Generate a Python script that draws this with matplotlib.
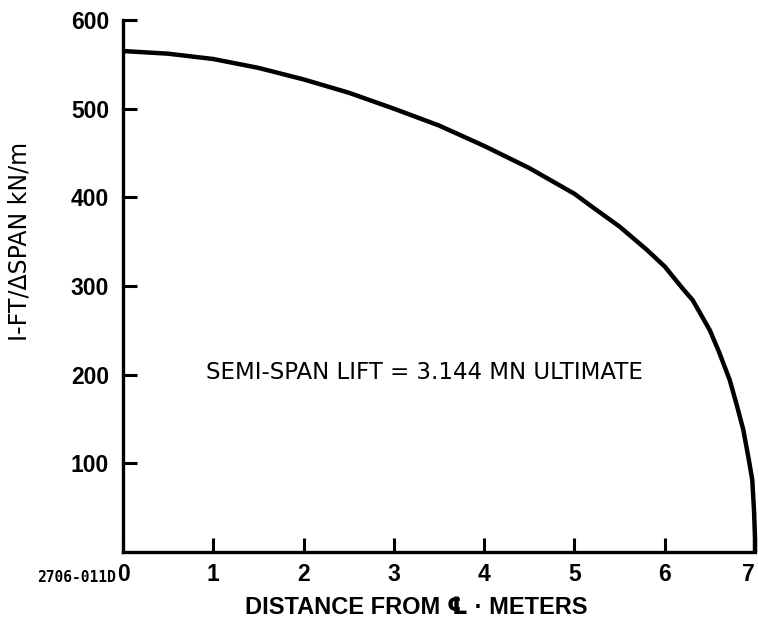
import matplotlib
matplotlib.use("Agg")
import matplotlib.pyplot as plt

# Spanwise lift distribution, semi-span
span_m = [0.0, 0.5, 1.0, 1.5, 2.0, 2.5, 3.0, 3.5, 4.0, 4.5, 5.0, 5.2, 5.5,
          5.8, 6.0, 6.2, 6.31, 6.4, 6.5, 6.6, 6.72, 6.8, 6.87, 6.93, 6.97,
          6.99, 7.0, 7.0]
lift_kn_per_m = [565, 562, 556, 546, 533, 518, 500, 481, 458, 433, 404, 389,
                 367, 341, 322, 297, 284, 268, 250, 226, 194, 165, 138, 105,
                 81, 45, 15, 0]

x_ticks = [0, 1, 2, 3, 4, 5, 6, 7]
y_ticks = [100, 200, 300, 400, 500, 600]

plt.rcParams['font.family'] = ['Liberation Sans', 'DejaVu Sans']

fig = plt.figure(figsize=(7.58, 6.30), dpi=100)
ax = fig.add_axes([123 / 758, 78 / 630, 632 / 758, 532 / 630])

ax.plot(span_m, lift_kn_per_m, color='black', lw=3.2, clip_on=False,
        solid_capstyle='butt', solid_joinstyle='round')

ax.set_xlim(0, 7)
ax.set_ylim(0, 600)
ax.set_xticks(x_ticks)
ax.set_yticks(y_ticks)

for side in ('top', 'right'):
    ax.spines[side].set_visible(False)
for side in ('left', 'bottom'):
    ax.spines[side].set_linewidth(2.4)
    ax.spines[side].set_capstyle('projecting')

ax.tick_params(direction='in', length=10, width=2.2, labelsize=16.5)
ax.tick_params(axis='x', pad=8)
ax.tick_params(axis='y', pad=10)
for lbl in ax.get_yticklabels() + ax.get_xticklabels():
    lbl.set_fontweight('bold')
ax.get_xticklabels()[-1].set_horizontalalignment('right')

ax.text(3.34, 203, 'SEMI-SPAN LIFT = 3.144 MN ULTIMATE', ha='center',
        va='center', fontsize=16.5, family='DejaVu Sans')

fig.text(20 / 758, 1 - 241 / 630, 'I-FT/\u0394SPAN kN/m', rotation=90,
         ha='center', va='center', fontsize=17, family='DejaVu Sans')

fig.text(416 / 758, 1 - 608 / 630, 'DISTANCE FROM \u2104 \u00b7 METERS',
         ha='center', va='center', fontsize=17, fontweight='bold')

fig.text(76 / 758, 1 - 578 / 630, '2706-011D', ha='center', va='center',
         fontsize=10.5, fontweight='bold', family='DejaVu Sans Mono')

fig.savefig('out.png', dpi=100)
